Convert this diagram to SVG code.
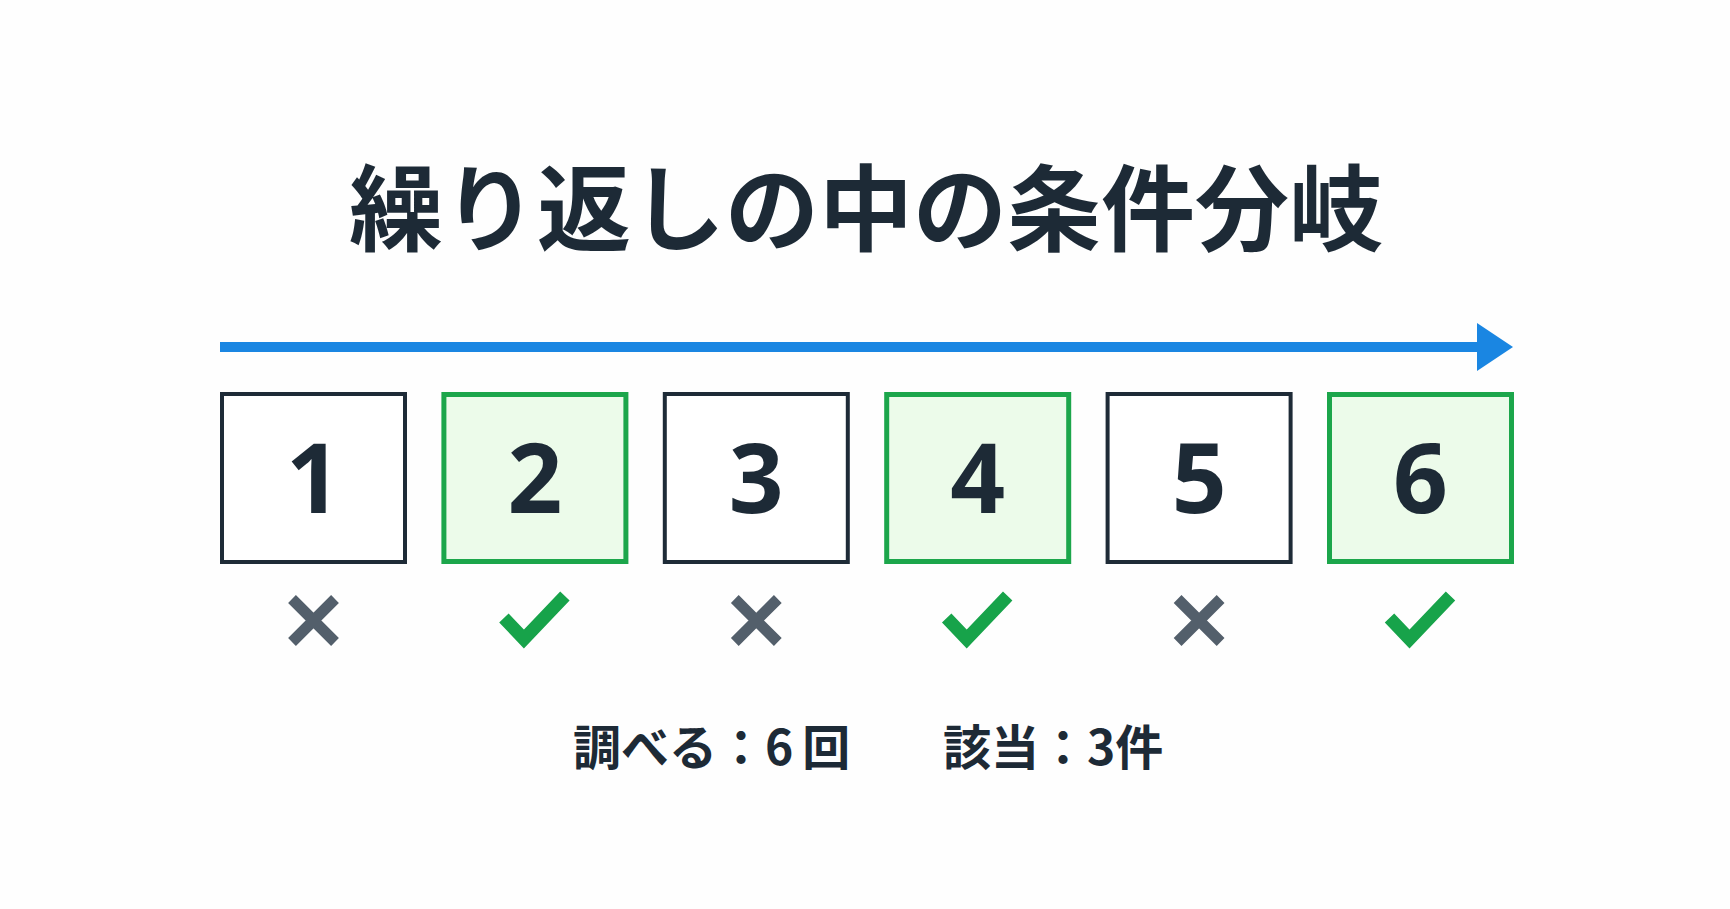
<svg xmlns="http://www.w3.org/2000/svg" width="1730" height="909" viewBox="0 0 1730 909">
<style>
.title{font-family:"Noto Sans CJK JP","Noto Sans",sans-serif;font-weight:700;font-size:94px;fill:#1d2a36;text-anchor:middle}
.num{font-family:"Noto Sans","Open Sans",sans-serif;font-weight:700;font-size:96px;fill:#1d2a36;text-anchor:middle}
.sum{font-family:"Noto Sans CJK JP","Noto Sans",sans-serif;font-weight:700;font-size:48px;fill:#1d2a36}
.plain{fill:#ffffff;stroke:#1e2b37;stroke-width:4}
.hit{fill:#ecfbea;stroke:#1ca64b;stroke-width:5}
.cross{stroke:#535f6b;stroke-width:11;stroke-linecap:butt;fill:none}
.check{stroke:#17a34a;stroke-width:13;stroke-linecap:butt;stroke-linejoin:miter;fill:none}
</style>
<rect width="1730" height="909" fill="#fefefe"/>
<text class="title" x="866" y="244">繰り返しの中の条件分岐</text>
<g id="connectors">
<line x1="220" y1="347" x2="1479" y2="347" stroke="#1a86e2" stroke-width="10"/>
<polygon points="1477,323 1513,347 1477,371" fill="#1a86e2"/>
</g>
<g id="n1">
<rect class="plain" x="222" y="394" width="183" height="168"/>
<text class="num" x="313.5" y="513">1</text>
<path class="cross" d="M292,599 L335,642 M335,599 L292,642"/>
</g>
<g id="n2">
<rect class="hit" x="443.9" y="394.5" width="182" height="167"/>
<text class="num" x="534.9" y="513">2</text>
<path class="check" d="M503.9,618 L523.9,639 L564.9,596"/>
</g>
<g id="n3">
<rect class="plain" x="664.8" y="394" width="183" height="168"/>
<text class="num" x="756.3" y="513">3</text>
<path class="cross" d="M734.8,599 L777.8,642 M777.8,599 L734.8,642"/>
</g>
<g id="n4">
<rect class="hit" x="886.7" y="394.5" width="182" height="167"/>
<text class="num" x="977.7" y="513">4</text>
<path class="check" d="M946.7,618 L966.7,639 L1007.7,596"/>
</g>
<g id="n5">
<rect class="plain" x="1107.6" y="394" width="183" height="168"/>
<text class="num" x="1199.1" y="513">5</text>
<path class="cross" d="M1177.6,599 L1220.6,642 M1220.6,599 L1177.6,642"/>
</g>
<g id="n6">
<rect class="hit" x="1329.5" y="394.5" width="182" height="167"/>
<text class="num" x="1420.5" y="513">6</text>
<path class="check" d="M1389.5,618 L1409.5,639 L1450.5,596"/>
</g>
<g id="summary">
<text class="sum" x="573" y="765">調べる：6<tspan dx="9">回</tspan></text>
<text class="sum" x="943" y="765">該当：3件</text>
</g>
</svg>
